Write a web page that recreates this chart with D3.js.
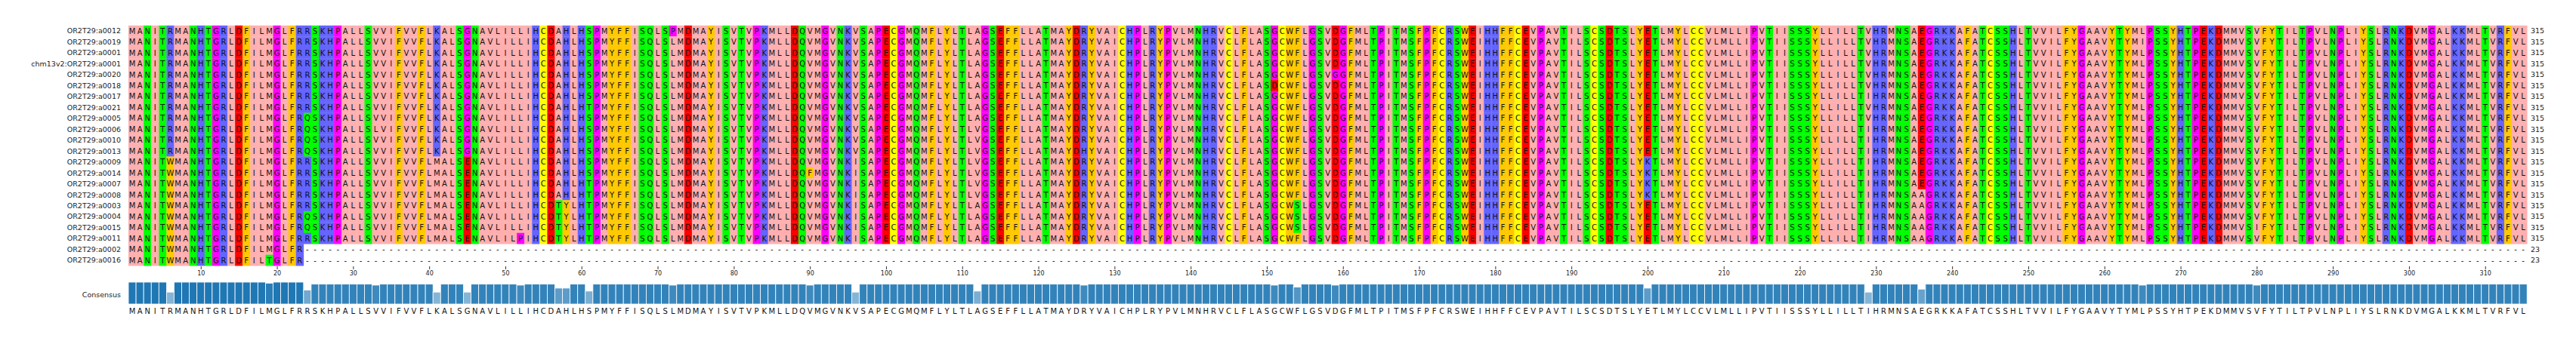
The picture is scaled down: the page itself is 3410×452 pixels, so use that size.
<!DOCTYPE html>
<html><head><meta charset="utf-8">
<script src="https://cdn.jsdelivr.net/npm/d3@7"></script>
<style>body{margin:0;background:#fff}text{font-family:"DejaVu Sans",sans-serif}</style>
</head><body><svg id="c" width="3410" height="452"></svg>
<script>
const names = ["OR2T29:a0012","OR2T29:a0019","OR2T29:a0001","chm13v2:OR2T29:a0001","OR2T29:a0020","OR2T29:a0018","OR2T29:a0017","OR2T29:a0021","OR2T29:a0005","OR2T29:a0006","OR2T29:a0010","OR2T29:a0013","OR2T29:a0009","OR2T29:a0014","OR2T29:a0007","OR2T29:a0008","OR2T29:a0003","OR2T29:a0004","OR2T29:a0015","OR2T29:a0011","OR2T29:a0002","OR2T29:a0016"];
const consensus = "MANITRMANHTGRLDFILMGLFRRSKHPALLSVVIFVVFLKALSGNAVLILLIHCDAHLHSPMYFFISQLSLMDMAYIS"+
"VTVPKMLLDQVMGVNKVSAPECGMQMFLYLTLAGSEFFLLATMAYDRYVAICHPLRYPVLMNHRVCLFLASGCWFLGS"+
"VDGFMLTPITMSFPFCRSWEIHHFFCEVPAVTILSCSDTSLYETLMYLCCVLMLLIPVTIISSSYLLILLTIHRMNSAE"+
"GRKKAFATCSSHLTVVILFYGAAVYTYMLPSSYHTPEKDMMVSVFYTILTPVLNPLIYSLRNKDVMGALKKMLTVRFVL";
const seqLengths = [315,315,315,315,315,315,315,315,315,315,315,315,315,315,315,315,315,315,315,315,23,23];
// substitutions: [row, column(1-based), residue]
const subs = [
 [0,72,"P"],[1,265,"I"],[4,159,"G"],[5,151,"D"],
 [0,229,"V"],[1,229,"V"],[2,229,"V"],[3,229,"V"],[4,229,"V"],[5,229,"V"],[7,229,"V"],[8,229,"V"],
 [7,61,"T"],[14,61,"T"],[15,61,"T"],[16,61,"T"],[17,61,"T"],[18,61,"T"],[19,61,"T"],
 [8,24,"Q"],[9,24,"Q"],[10,24,"Q"],[11,24,"Q"],[17,24,"Q"],[18,24,"Q"],
 [9,33,"L"],[11,126,"H"],[13,90,"F"],[18,280,"I"],[19,52,"P"],[21,19,"T"],
 [9,112,"V"],[10,112,"V"],[11,112,"V"],[12,112,"V"],[13,112,"V"],[14,112,"V"],[15,112,"V"],
 [16,57,"T"],[17,57,"T"],[18,57,"T"],[19,57,"T"],[16,58,"Y"],[17,58,"Y"],[18,58,"Y"],[19,58,"Y"],
 [16,154,"S"],[17,154,"S"],[18,154,"S"],
 [12,200,"K"],[13,200,"K"],[14,200,"K"],[15,200,"K"],
 [15,236,"A"],[16,236,"A"],[17,236,"A"],[18,236,"A"],[19,236,"A"]
];
const w6Rows = [12,13,14,15,16,17,18,19,20,21];   // col 6 W
const m41Rows = [12,13,14,15,16,17,18,19];          // col 41 M, col 45 E, col 96 I
w6Rows.forEach(r=>subs.push([r,6,"W"]));
m41Rows.forEach(r=>{subs.push([r,41,"M"]);subs.push([r,45,"E"]);subs.push([r,96,"I"]);});
const ticks = d3.range(10,316,10);

const zappo = {I:"#ffafaf",L:"#ffafaf",V:"#ffafaf",A:"#ffafaf",M:"#ffafaf",F:"#ffc800",W:"#ffc800",Y:"#ffc800",
 K:"#6464ff",R:"#6464ff",H:"#6464ff",D:"#ff0000",E:"#ff0000",S:"#00ff00",T:"#00ff00",N:"#00ff00",Q:"#00ff00",
 P:"#ff00ff",G:"#ff00ff",C:"#ffff00"};

const L = consensus.length;
const seqs = names.map((n,i)=>{const a=consensus.split("");for(let k=seqLengths[i];k<L;k++)a[k]="-";return a;});
subs.forEach(([r,c,v])=>{seqs[r][c-1]=v;});

const svg = d3.select("#c");
const x = d3.scaleBand().domain(d3.range(1,L+1)).range([170,170+L*10.08]).padding(0);
const y = d3.scaleBand().domain(d3.range(names.length)).range([33.8,33.8+names.length*14.47]);
const cw = x.bandwidth(), ch = y.bandwidth();

const cells = [];
seqs.forEach((s,r)=>s.forEach((a,c)=>cells.push({r,c:c+1,a})));
svg.append("g").selectAll("rect").data(cells.filter(d=>d.a!=="-")).join("rect")
 .attr("x",d=>x(d.c)).attr("y",d=>y(d.r)).attr("width",cw+0.3).attr("height",ch+0.3)
 .attr("fill",d=>zappo[d.a]);
svg.append("g").selectAll("text").data(cells).join("text")
 .attr("x",d=>x(d.c)+cw/2).attr("y",d=>y(d.r)+ch/2).attr("dy","0.36em")
 .attr("text-anchor","middle").attr("font-size",10).attr("fill","#111").text(d=>d.a);
svg.append("g").selectAll("text").data(names).join("text")
 .attr("x",160).attr("y",(d,i)=>y(i)+ch/2).attr("dy","0.36em").attr("text-anchor","end")
 .attr("font-size",9.5).attr("fill","#222").text(d=>d);
svg.append("g").selectAll("text").data(seqLengths).join("text")
 .attr("x",3350).attr("y",(d,i)=>y(i)+ch/2).attr("dy","0.36em")
 .attr("font-size",9.5).attr("fill","#222").text(d=>d);

// position axis
const xa = d3.scaleLinear().domain([1,L]).range([x(1)+cw/2,x(L)+cw/2]);
const ax = svg.append("g").attr("transform","translate(0,353)")
 .call(d3.axisBottom(xa).tickValues(ticks).tickSize(4).tickPadding(2).tickFormat(d3.format("d")));
ax.select(".domain").remove();
ax.selectAll("text").attr("font-size",8).attr("fill","#222");
ax.selectAll("line").attr("stroke","#333");

// consensus
const cons = d3.range(L).map(c=>{const cnt=seqs.filter(s=>s[c]===consensus[c]).length;return {c:c+1,a:consensus[c],f:cnt/names.length};});
const hy = d3.scaleLinear().domain([0,1]).range([403,374]);
svg.append("g").selectAll("rect").data(cons).join("rect")
 .attr("x",d=>x(d.c)).attr("width",cw).attr("y",d=>hy(d.f)).attr("height",d=>403-hy(d.f))
 .attr("fill","#1f77b4").attr("fill-opacity",d=>d.f).attr("stroke","#fff").attr("stroke-width",0.8);
svg.append("g").selectAll("text").data(cons).join("text")
 .attr("x",d=>x(d.c)+cw/2).attr("y",412).attr("dy","0.36em").attr("text-anchor","middle")
 .attr("font-size",10).attr("fill","#111").text(d=>d.a);
svg.append("text").attr("x",160).attr("y",391).attr("dy","0.36em").attr("text-anchor","end")
 .attr("font-size",9.5).attr("fill","#222").text("Consensus");
</script></body></html>
